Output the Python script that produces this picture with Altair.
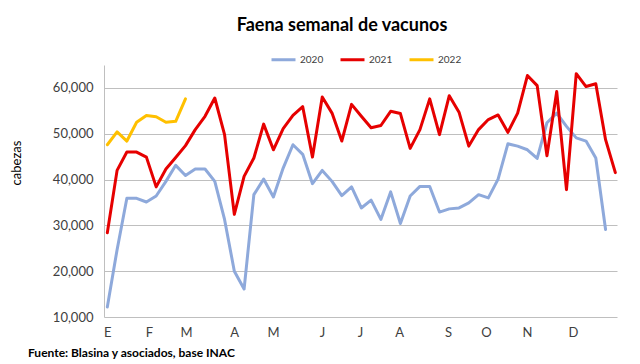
import altair as alt
import pandas as pd

chart_title = "Faena semanal de vacunos"
source_note = "Fuente: Blasina y asociados, base INAC"
y_title = "cabezas"

series_names = ["2020", "2021", "2022"]
series_colors = ["#8EA9DB", "#E60000", "#FFC000"]

values_2020 = [12200, 24700, 35900, 35900, 35100, 36400, 39600, 43100, 40900, 42300,
               42300, 39600, 31300, 20000, 16100, 36700, 40100, 36200, 42500, 47600,
               45500, 39100, 42000, 39600, 36500, 38400, 33800, 35500, 31300, 37300,
               30400, 36400, 38500, 38500, 32900, 33600, 33800, 34900, 36700, 36000,
               40100, 47800, 47300, 46500, 44600, 52400, 54500, 51600, 49100, 48400,
               44700, 29100]
values_2021 = [28400, 42000, 46000, 46000, 44900, 38400, 42300, 44800, 47400, 50900,
               53800, 57800, 49800, 32400, 40700, 44700, 52100, 46500, 51100, 54000,
               55900, 44900, 58000, 54500, 48400, 56400, 53800, 51300, 51800, 54900,
               54400, 46800, 50900, 57600, 49800, 58300, 54700, 47300, 50900, 53100,
               54100, 50300, 54500, 62700, 60500, 45200, 59200, 37800, 63100, 60300,
               60900, 48700, 41500]
values_2022 = [47600, 50400, 48400, 52500, 54000, 53700, 52500, 52700, 57600]

month_labels = ["E", "F", "M", "A", "M", "J", "J", "A", "S", "O", "N", "D"]
month_weeks = [1, 5.27, 9.05, 13.97, 17.96, 22.98, 26.87, 30.86, 35.87, 39.76, 43.96, 48.67]
y_ticks = [10000, 20000, 30000, 40000, 50000, 60000]

rows = []
for name, vals in zip(series_names, [values_2020, values_2021, values_2022]):
    for i, v in enumerate(vals):
        rows.append({"serie": name, "semana": i + 1, "cabezas": v})
df = pd.DataFrame(rows)

label_expr = ("[" + ",".join(f"'{m}'" for m in month_labels) + "][indexof(["
              + ",".join(str(w) for w in month_weeks) + "], datum.value)]")

FONT = "Lato"

lines = alt.Chart(df).mark_line(strokeWidth=3, strokeJoin="round", strokeCap="round").encode(
    x=alt.X("semana:Q",
            scale=alt.Scale(domain=[0.66, 53.17], nice=False, zero=False),
            axis=alt.Axis(values=month_weeks, labelExpr=label_expr, title=None, grid=False,
                          ticks=False, domain=False, labelFontSize=13, labelPadding=9,
                          labelColor="#404040", labelFont=FONT)),
    y=alt.Y("cabezas:Q",
            scale=alt.Scale(domain=[10000, 65000], nice=False, zero=False),
            axis=alt.Axis(values=y_ticks, format=",.0f", title=None, grid=True,
                          gridColor="#BFBFBF", gridWidth=1, ticks=False,
                          domainColor="#BFBFBF", labelFontSize=13, labelPadding=11,
                          labelColor="#404040", labelFont=FONT)),
    color=alt.Color("serie:N",
                    scale=alt.Scale(domain=series_names, range=series_colors),
                    legend=alt.Legend(orient="none", legendX=166, legendY=-19,
                                      direction="horizontal", title=None,
                                      symbolType="stroke", symbolStrokeWidth=3,
                                      symbolSize=576, labelFontSize=10,
                                      labelFont=FONT, labelColor="#404040",
                                      labelOffset=3, columnPadding=10)),
    order=alt.Order("semana:Q"),
    detail="serie:N",
)

title_layer = alt.Chart(pd.DataFrame({"t": [chart_title]})).mark_text(
    font=FONT, fontSize=18, fontWeight="bold", color="#000000",
    align="center", baseline="alphabetic"
).encode(text="t:N", x=alt.value(238), y=alt.value(-34))

ytitle_layer = alt.Chart(pd.DataFrame({"t": [y_title]})).mark_text(
    font=FONT, fontSize=13, color="#000000", angle=270,
    align="center", baseline="middle"
).encode(text="t:N", x=alt.value(-87), y=alt.value(98))

note_layer = alt.Chart(pd.DataFrame({"t": [source_note]})).mark_text(
    font=FONT, fontSize=12, fontWeight="bold", color="#000000",
    align="left", baseline="alphabetic"
).encode(text="t:N", x=alt.value(-76), y=alt.value(292))

chart = alt.layer(lines, title_layer, ytitle_layer, note_layer).properties(
    width=513, height=252,
    autosize=alt.AutoSizeParams(type="none"),
    padding={"left": 96, "top": 57, "right": 15, "bottom": 47},
    background="white",
).configure_view(stroke=None)

chart.save("out.html", embed_options={"renderer": "svg", "actions": False})
